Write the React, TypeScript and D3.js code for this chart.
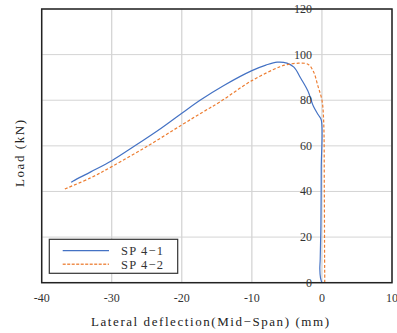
import React from "react";
import * as d3 from "d3";

const xTicks = [-40, -30, -20, -10, 0, 10];
const yTicks = [0, 20, 40, 60, 80, 100, 120];

const sp1X = [-35.8, -35.5, -33, -30, -26.7, -23, -20, -17.4, -14, -10, -8, -6.4, -5, -4, -3, -2, -1.2, -0.5, -0.1, -0.1, -0.15, -0.25, -0.3, -0.2, 0];
const sp1Y = [44, 44.6, 48.6, 53.5, 60, 67.6, 74.3, 80, 86.5, 93, 95.4, 96.7, 96.3, 94.5, 89.5, 84, 77.2, 73.5, 71.4, 50, 25, 10, 6, 2, 0];

const sp2X = [-36.7, -33, -30, -25, -20, -17, -14.5, -10, -6, -5, -3.6, -2, -1.2, -0.6, 0, 0.24, 0.34, 0.38, 0.4, 0.4];
const sp2Y = [41.1, 46, 50.9, 59.7, 69.2, 74.8, 79.4, 88.6, 94.7, 95.6, 96.2, 95.8, 92.5, 86.5, 80, 71.4, 40, 10, 2, 0];

const seriesNames = ["SP 4-1", "SP 4-2"];

const L = 41.7, R = 392, T = 9, B = 282.7;
const FONT = "Liberation Serif, DejaVu Serif, serif";
const ts = { fontFamily: FONT } as React.CSSProperties;

export default function App() {
  const x = d3.scaleLinear().domain([-40, 10]).range([L, R]);
  const y = d3.scaleLinear().domain([0, 120]).range([B, T]);
  const line = d3
    .line<[number, number]>()
    .x((d) => x(d[0]))
    .y((d) => y(d[1]))
    .curve(d3.curveCatmullRom.alpha(0.5));
  const d1 = line(sp1X.map((v, i) => [v, sp1Y[i]] as [number, number])) || "";
  const d2 = line(sp2X.map((v, i) => [v, sp2Y[i]] as [number, number])) || "";
  const blue = "#4472c4";
  const orange = "#ed7d31";

  return (
    <svg
      width={397}
      height={333}
      style={{ position: "absolute", left: 0, top: 0, background: "#fff" }}
    >
      <rect x={0} y={0} width={397} height={333} fill="#fff" />
      {xTicks.map((t) => (
        <line key={"gx" + t} x1={x(t)} x2={x(t)} y1={T} y2={B} stroke="#c8c8c8" strokeWidth={1} />
      ))}
      {yTicks.map((t) => (
        <line key={"gy" + t} x1={L} x2={R} y1={y(t)} y2={y(t)} stroke="#d4d4d4" strokeWidth={1} />
      ))}
      <path d={d1} fill="none" stroke={blue} strokeWidth={1.2} />
      <path d={d2} fill="none" stroke={orange} strokeWidth={1.2} strokeDasharray="3,2" />
      <rect x={L} y={T} width={R - L} height={B - T} fill="none" stroke="#222" strokeWidth={1.5} />
      {yTicks.map((t) => (
        <text key={"ly" + t} style={ts} x={312} y={y(t) + 4} textAnchor="end" fontSize={12} fill="#333">
          {t}
        </text>
      ))}
      {xTicks.map((t) => (
        <text key={"lx" + t} style={ts} x={x(t)} y={301.5} textAnchor="middle" fontSize={12} fill="#333">
          {t}
        </text>
      ))}
      <text style={ts} x={91} y={326} fontSize={13} fill="#222" textLength={238} lengthAdjust="spacing">
        Lateral deflection(Mid−Span) (mm)
      </text>
      <text
        style={ts}
        transform={`translate(24,187) rotate(-90)`}
        x={0}
        y={0}
        fontSize={13}
        fill="#222"
        textLength={67}
        lengthAdjust="spacing"
      >
        Load (kN)
      </text>
      <rect x={49.3} y={239.3} width={128.4} height={34} fill="#fff" stroke="#333" strokeWidth={1.2} />
      <line x1={62.7} x2={109} y1={250.7} y2={250.7} stroke={blue} strokeWidth={1.3} />
      <line x1={62.7} x2={109} y1={264.3} y2={264.3} stroke={orange} strokeWidth={1.5} strokeDasharray="3,1.5" opacity={0.85} />
      <text style={ts} x={121} y={255} fontSize={12.5} fill="#333" textLength={42} lengthAdjust="spacing">
        {seriesNames[0].replace("-", "−")}
      </text>
      <text style={ts} x={121} y={268.6} fontSize={12.5} fill="#333" textLength={42} lengthAdjust="spacing">
        {seriesNames[1].replace("-", "−")}
      </text>
    </svg>
  );
}
